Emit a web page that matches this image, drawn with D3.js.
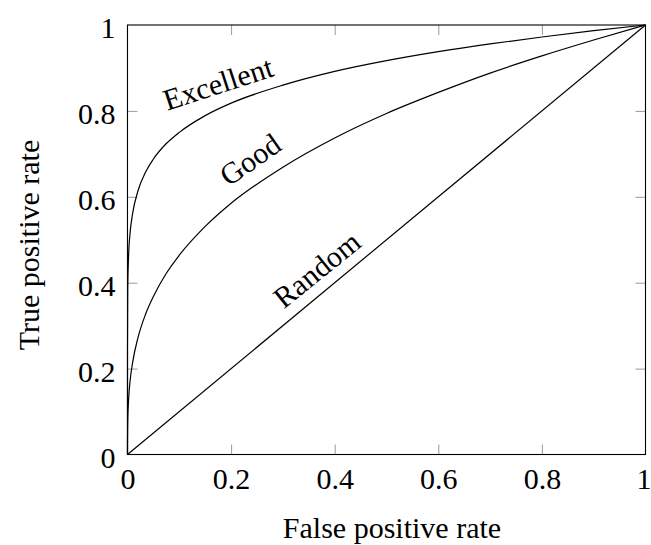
<!DOCTYPE html>
<html>
<head>
<meta charset="utf-8">
<script src="https://cdn.jsdelivr.net/npm/d3@7"></script>
<style>
  body { margin: 0; background: #fff; }
  text { font-family: "Liberation Serif", "Times New Roman", serif; }
</style>
</head>
<body>
<div id="chart"></div>
<script>
// tick values on both axes
var ticks = [0, 0.2, 0.4, 0.6, 0.8, 1];

// curves
var excellentX = [0, 0.00001, 0.0005, 0.002, 0.005, 0.01, 0.02, 0.035, 0.05, 0.075, 0.1, 0.15, 0.2, 0.3, 0.4, 0.5, 0.6, 0.7, 0.8, 0.9, 1];
var excellentY = [0, 0.24, 0.387, 0.46, 0.516, 0.562, 0.613, 0.658, 0.688, 0.724, 0.75, 0.789, 0.818, 0.86, 0.892, 0.917, 0.938, 0.956, 0.972, 0.987, 1];
var goodX = [0, 0.00001, 0.0005, 0.002, 0.005, 0.01, 0.02, 0.035, 0.05, 0.075, 0.1, 0.15, 0.2, 0.3, 0.4, 0.5, 0.6, 0.7, 0.8, 0.9, 1];
var goodY = [0, 0.022, 0.079, 0.126, 0.171, 0.215, 0.271, 0.327, 0.368, 0.422, 0.464, 0.531, 0.585, 0.669, 0.737, 0.794, 0.843, 0.888, 0.928, 0.965, 1];
var randomX = [0, 1];
var randomY = [0, 1];

// curve labels: text, centre (data coords), angle
var labelText = ["Excellent", "Good", "Random"];
var labelX = [0.175, 0.237, 0.366];
var labelY = [0.863, 0.686, 0.43];
var labelAngle = [-18, -35, -39];

var width = 651, height = 545;
var margin = {top: 25, right: 5.5, bottom: 90.5, left: 127.5};
var w = width - margin.left - margin.right,
    h = height - margin.top - margin.bottom;
var fs = 30;

var svg = d3.select("#chart").append("svg")
    .attr("width", width)
    .attr("height", height);

var g = svg.append("g")
    .attr("transform", "translate(" + margin.left + "," + margin.top + ")");

var x = d3.scaleLinear().domain([0, 1]).range([0, w]);
var y = d3.scaleLinear().domain([0, 1]).range([h, 0]);

var fmt = function(d) { return String(d); };

// axes, ticks pointing inward on all four sides
var xb = g.append("g").attr("transform", "translate(0," + h + ")")
    .call(d3.axisBottom(x).tickValues(ticks).tickSize(-10).tickPadding(13).tickFormat(fmt));
var xt = g.append("g")
    .call(d3.axisTop(x).tickValues(ticks).tickSize(-10).tickFormat(""));
var yl = g.append("g")
    .call(d3.axisLeft(y).tickValues(ticks).tickSize(-10).tickPadding(12).tickFormat(fmt));
var yr = g.append("g").attr("transform", "translate(" + w + ",0)")
    .call(d3.axisRight(y).tickValues(ticks).tickSize(-10).tickFormat(""));

[xb, xt, yl, yr].forEach(function(a) {
  a.select(".domain").remove();
  a.selectAll(".tick line").attr("stroke", "#9a9a9a").attr("stroke-width", 1);
  a.selectAll(".tick text").attr("font-size", fs).attr("fill", "#000")
    .style("font-family", "'Liberation Serif', serif");
  // end ticks sit on the frame
  a.selectAll(".tick line").filter(function(d) { return d === 0 || d === 1; }).remove();
});
yl.selectAll(".tick text").attr("dy", "0.42em");
xb.selectAll(".tick text").filter(function(d) { return d === 1; }).attr("dx", -2);

// frame
g.append("rect")
    .attr("width", w).attr("height", h)
    .attr("fill", "none").attr("stroke", "#000").attr("stroke-width", 1.1);

var line = d3.line()
    .x(function(d) { return x(d[0]); })
    .y(function(d) { return y(d[1]); })
    .curve(d3.curveMonotoneX);

var series = [d3.zip(randomX, randomY), d3.zip(goodX, goodY), d3.zip(excellentX, excellentY)];
g.selectAll("path.curve").data(series).enter()
  .append("path")
    .attr("class", "curve")
    .attr("d", line)
    .attr("fill", "none")
    .attr("stroke", "#000")
    .attr("stroke-width", 1.2);

g.selectAll("text.lbl").data(labelText).enter()
  .append("text")
    .attr("class", "lbl")
    .attr("transform", function(d, i) {
      return "translate(" + x(labelX[i]) + "," + y(labelY[i]) + ") rotate(" + labelAngle[i] + ")";
    })
    .attr("text-anchor", "middle")
    .attr("dy", "0.33em")
    .attr("font-size", fs)
    .text(function(d) { return d; });

// axis titles
svg.append("text")
    .attr("x", 392)
    .attr("y", 538)
    .attr("text-anchor", "middle")
    .attr("font-size", fs)
    .text("False positive rate");

svg.append("text")
    .attr("transform", "translate(39,245) rotate(-90)")
    .attr("text-anchor", "middle")
    .attr("font-size", fs)
    .text("True positive rate");
</script>
</body>
</html>
